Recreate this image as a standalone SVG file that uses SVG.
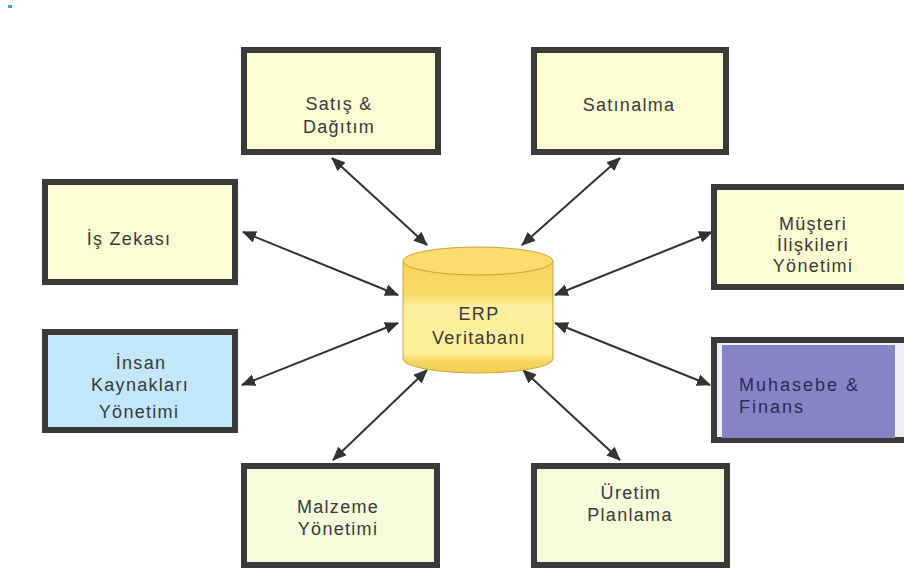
<svg xmlns="http://www.w3.org/2000/svg" width="904" height="575" viewBox="0 0 904 575">
  <defs>
    <marker id="head" viewBox="0 0 14 12" refX="13" refY="6" markerWidth="14" markerHeight="12" markerUnits="userSpaceOnUse" orient="auto-start-reverse">
      <path d="M0,0 L14,6 L0,12 Z" fill="#333"/>
    </marker>
    <linearGradient id="drum" x1="0" y1="0" x2="0" y2="1">
      <stop offset="0" stop-color="#f6d55c"/>
      <stop offset="0.3" stop-color="#f8da68"/>
      <stop offset="0.4" stop-color="#fdee9e"/>
      <stop offset="0.82" stop-color="#fdee9a"/>
      <stop offset="0.9" stop-color="#f6d55e"/>
      <stop offset="1" stop-color="#f3cd50"/>
    </linearGradient>
  </defs>
  <style>
    .box { stroke: #3a3a3a; stroke-width: 6; }
    .yel { fill: #fdfdd3; }
    .grn { fill: #f6fbdc; }
    .lbl { font-family: "Liberation Sans", Arial, sans-serif; font-size: 18px; letter-spacing: 1.3px; fill: #3a3a3a; text-anchor: middle; }
    .lbl-l { font-family: "Liberation Sans", Arial, sans-serif; font-size: 18px; letter-spacing: 2px; fill: #2c2c58; }
    .arrow { stroke: #333; stroke-width: 2; fill: none; marker-start: url(#head); marker-end: url(#head); }
  </style>

  <rect width="904" height="575" fill="#ffffff"/>
  <rect x="8" y="5" width="4" height="3" fill="#3ba0d8"/>

  <g id="connectors">
    <line class="arrow" x1="332" y1="158" x2="427" y2="245"/>
    <line class="arrow" x1="620" y1="158" x2="522" y2="245"/>
    <line class="arrow" x1="243" y1="232" x2="398" y2="295"/>
    <line class="arrow" x1="712" y1="232" x2="555" y2="295"/>
    <line class="arrow" x1="242" y1="385" x2="398" y2="323"/>
    <line class="arrow" x1="710" y1="385" x2="555" y2="323"/>
    <line class="arrow" x1="333" y1="460" x2="427" y2="370"/>
    <line class="arrow" x1="620" y1="460" x2="523" y2="370"/>
  </g>

  <g id="erp-db">
    <path d="M403,261 L403,359 A75,14 0 0 0 553,359 L553,261 Z" fill="url(#drum)" stroke="#c9a43c" stroke-width="1"/>
    <ellipse cx="478" cy="261" rx="75" ry="14" fill="#fcdc6c" stroke="#c9a43c" stroke-width="1"/>
    <text class="lbl" x="479" y="320">ERP</text>
    <text class="lbl" x="479" y="344">Veritabanı</text>
  </g>

  <g id="satis-dagitim">
    <rect class="box yel" x="244" y="50" width="194" height="102"/>
    <text class="lbl" x="339" y="110">Satış &amp;</text>
    <text class="lbl" x="339" y="133">Dağıtım</text>
  </g>

  <g id="satinalma">
    <rect class="box yel" x="534" y="50" width="192" height="102"/>
    <text class="lbl" x="629" y="111">Satınalma</text>
  </g>

  <g id="is-zekasi">
    <rect class="box yel" x="45" y="182" width="190" height="100"/>
    <text class="lbl" x="129" y="245">İş Zekası</text>
  </g>

  <g id="musteri-iliskileri">
    <rect class="box yel" x="714" y="187" width="196" height="100"/>
    <text class="lbl" x="813" y="230">Müşteri</text>
    <text class="lbl" x="813" y="251">İlişkileri</text>
    <text class="lbl" x="813" y="272">Yönetimi</text>
  </g>

  <g id="insan-kaynaklari">
    <rect class="box" x="45" y="332" width="190" height="98" fill="#c2e7fa"/>
    <text class="lbl" x="141" y="369">İnsan</text>
    <text class="lbl" x="140" y="391">Kaynakları</text>
    <text class="lbl" x="139" y="418">Yönetimi</text>
  </g>

  <g id="muhasebe-finans">
    <rect class="box" x="714" y="340" width="200" height="100" fill="#eeeefa"/>
    <rect x="722" y="345" width="173" height="93" fill="#8585c5"/>
    <text class="lbl-l" x="739" y="391">Muhasebe &amp;</text>
    <text class="lbl-l" x="739" y="413">Finans</text>
  </g>

  <g id="malzeme-yonetimi">
    <rect class="box grn" x="244" y="466" width="193" height="99"/>
    <text class="lbl" x="338" y="513">Malzeme</text>
    <text class="lbl" x="338" y="535">Yönetimi</text>
  </g>

  <g id="uretim-planlama">
    <rect class="box grn" x="534" y="466" width="193" height="99"/>
    <text class="lbl" x="631" y="499">Üretim</text>
    <text class="lbl" x="630" y="521">Planlama</text>
  </g>
</svg>
